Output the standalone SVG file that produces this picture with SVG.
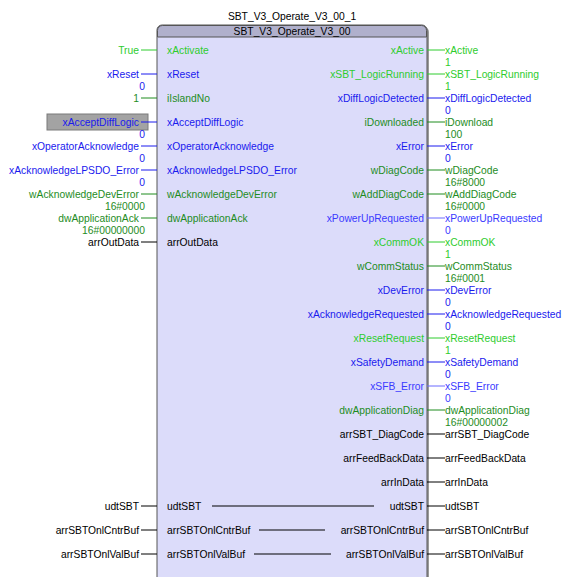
<svg xmlns="http://www.w3.org/2000/svg" width="566" height="577" viewBox="0 0 566 577">
<style>
text{font-family:"Liberation Sans",Arial,sans-serif;font-size:10.3px}
.l{text-anchor:end}
.c{text-anchor:middle}
.g{fill:#2ecc2e}.G{fill:#1e8c1e}.b{fill:#1a1aee}.B{fill:#3a3aff}.k{fill:#000}
.sg{stroke:#2ecc2e}.sG{stroke:#1e8c1e}.sb{stroke:#1a1aee}.sB{stroke:#6a6aff}.sk{stroke:#000}
line{stroke-width:1}
</style>
<rect width="566" height="577" fill="#fff"/>
<g id="block">
<text class="c k" x="292" y="20">SBT_V3_Operate_V3_00_1</text>
<rect x="159" y="27" width="270" height="570" rx="5" fill="#9a9a9a"/>
<rect x="157" y="25" width="270" height="570" rx="5" fill="#dcdcfa" stroke="#555" stroke-width="1"/>
<path d="M157.5,37 V30.5 A5,5 0 0 1 162.5,25.5 H421.5 A5,5 0 0 1 426.5,30.5 V37 Z" fill="#b0b0cc" stroke="#555"/>
<text class="c k" x="292" y="35">SBT_V3_Operate_V3_00</text>
</g>
<g id="highlight"><rect x="47" y="114" width="101" height="16" fill="#a3a3a3" stroke="#7a7a7a"/></g>
<g id="connectors">
<line class="sg" x1="141" y1="50" x2="157" y2="50"/>
<line class="sb" x1="141" y1="74" x2="157" y2="74"/>
<line class="sG" x1="141" y1="98" x2="157" y2="98"/>
<line class="sb" x1="141" y1="122" x2="157" y2="122"/>
<line class="sb" x1="141" y1="146" x2="157" y2="146"/>
<line class="sb" x1="141" y1="170" x2="157" y2="170"/>
<line class="sG" x1="141" y1="194" x2="157" y2="194"/>
<line class="sG" x1="141" y1="218" x2="157" y2="218"/>
<line class="sk" x1="141" y1="242" x2="157" y2="242"/>
<line class="sk" x1="141" y1="506" x2="157" y2="506"/>
<line class="sk" x1="141" y1="530" x2="157" y2="530"/>
<line class="sk" x1="141" y1="554" x2="157" y2="554"/>
<line class="sg" x1="427" y1="50" x2="445" y2="50"/>
<line class="sg" x1="427" y1="74" x2="445" y2="74"/>
<line class="sb" x1="427" y1="98" x2="445" y2="98"/>
<line class="sG" x1="427" y1="122" x2="445" y2="122"/>
<line class="sb" x1="427" y1="146" x2="445" y2="146"/>
<line class="sG" x1="427" y1="170" x2="445" y2="170"/>
<line class="sG" x1="427" y1="194" x2="445" y2="194"/>
<line class="sB" x1="427" y1="218" x2="445" y2="218"/>
<line class="sg" x1="427" y1="242" x2="445" y2="242"/>
<line class="sG" x1="427" y1="266" x2="445" y2="266"/>
<line class="sb" x1="427" y1="290" x2="445" y2="290"/>
<line class="sb" x1="427" y1="314" x2="445" y2="314"/>
<line class="sg" x1="427" y1="338" x2="445" y2="338"/>
<line class="sb" x1="427" y1="362" x2="445" y2="362"/>
<line class="sB" x1="427" y1="386" x2="445" y2="386"/>
<line class="sG" x1="427" y1="410" x2="445" y2="410"/>
<line class="sk" x1="427" y1="434" x2="445" y2="434"/>
<line class="sk" x1="427" y1="458" x2="445" y2="458"/>
<line class="sk" x1="427" y1="482" x2="445" y2="482"/>
<line class="sk" x1="427" y1="506" x2="445" y2="506"/>
<line class="sk" x1="427" y1="530" x2="445" y2="530"/>
<line class="sk" x1="427" y1="554" x2="445" y2="554"/>
<line class="sk" x1="212" y1="506" x2="374" y2="506"/>
<line class="sk" x1="259" y1="530" x2="325" y2="530"/>
<line class="sk" x1="254" y1="554" x2="331" y2="554"/>
</g>
<g id="inputs">
<text class="l g" x="139" y="54">True</text>
<text class="l b" x="139" y="78">xReset</text>
<text class="l b" x="145" y="90">0</text>
<text class="l G" x="139" y="102">1</text>
<text class="l b" x="139" y="126">xAcceptDiffLogic</text>
<text class="l b" x="145" y="138">0</text>
<text class="l b" x="139" y="150">xOperatorAcknowledge</text>
<text class="l b" x="145" y="162">0</text>
<text class="l b" x="139" y="174">xAcknowledgeLPSDO_Error</text>
<text class="l b" x="145" y="186">0</text>
<text class="l G" x="139" y="198">wAcknowledgeDevError</text>
<text class="l G" x="145" y="210">16#0000</text>
<text class="l G" x="139" y="222">dwApplicationAck</text>
<text class="l G" x="145" y="234">16#00000000</text>
<text class="l k" x="139" y="246">arrOutData</text>
<text class="l k" x="139" y="510">udtSBT</text>
<text class="l k" x="139" y="534">arrSBTOnlCntrBuf</text>
<text class="l k" x="139" y="558">arrSBTOnlValBuf</text>
</g>
<g id="pins-in">
<text class="g" x="167" y="54">xActivate</text>
<text class="b" x="167" y="78">xReset</text>
<text class="G" x="167" y="102">iIslandNo</text>
<text class="b" x="167" y="126">xAcceptDiffLogic</text>
<text class="b" x="167" y="150">xOperatorAcknowledge</text>
<text class="b" x="167" y="174">xAcknowledgeLPSDO_Error</text>
<text class="G" x="167" y="198">wAcknowledgeDevError</text>
<text class="G" x="167" y="222">dwApplicationAck</text>
<text class="k" x="167" y="246">arrOutData</text>
<text class="k" x="167" y="510">udtSBT</text>
<text class="k" x="167" y="534">arrSBTOnlCntrBuf</text>
<text class="k" x="167" y="558">arrSBTOnlValBuf</text>
</g>
<g id="pins-out">
<text class="l g" x="424" y="54">xActive</text>
<text class="l g" x="424" y="78">xSBT_LogicRunning</text>
<text class="l b" x="424" y="102">xDiffLogicDetected</text>
<text class="l G" x="424" y="126">iDownloaded</text>
<text class="l b" x="424" y="150">xError</text>
<text class="l G" x="424" y="174">wDiagCode</text>
<text class="l G" x="424" y="198">wAddDiagCode</text>
<text class="l B" x="424" y="222">xPowerUpRequested</text>
<text class="l g" x="424" y="246">xCommOK</text>
<text class="l G" x="424" y="270">wCommStatus</text>
<text class="l b" x="424" y="294">xDevError</text>
<text class="l b" x="424" y="318">xAcknowledgeRequested</text>
<text class="l g" x="424" y="342">xResetRequest</text>
<text class="l b" x="424" y="366">xSafetyDemand</text>
<text class="l B" x="424" y="390">xSFB_Error</text>
<text class="l G" x="424" y="414">dwApplicationDiag</text>
<text class="l k" x="424" y="438">arrSBT_DiagCode</text>
<text class="l k" x="424" y="462">arrFeedBackData</text>
<text class="l k" x="424" y="486">arrInData</text>
<text class="l k" x="424" y="510">udtSBT</text>
<text class="l k" x="424" y="534">arrSBTOnlCntrBuf</text>
<text class="l k" x="424" y="558">arrSBTOnlValBuf</text>
</g>
<g id="outputs">
<text class="g" x="445" y="54">xActive</text>
<text class="g" x="445" y="66">1</text>
<text class="g" x="445" y="78">xSBT_LogicRunning</text>
<text class="g" x="445" y="90">1</text>
<text class="b" x="445" y="102">xDiffLogicDetected</text>
<text class="b" x="445" y="114">0</text>
<text class="G" x="445" y="126">iDownload</text>
<text class="G" x="445" y="138">100</text>
<text class="b" x="445" y="150">xError</text>
<text class="b" x="445" y="162">0</text>
<text class="G" x="445" y="174">wDiagCode</text>
<text class="G" x="445" y="186">16#8000</text>
<text class="G" x="445" y="198">wAddDiagCode</text>
<text class="G" x="445" y="210">16#0000</text>
<text class="B" x="445" y="222">xPowerUpRequested</text>
<text class="B" x="445" y="234">0</text>
<text class="g" x="445" y="246">xCommOK</text>
<text class="g" x="445" y="258">1</text>
<text class="G" x="445" y="270">wCommStatus</text>
<text class="G" x="445" y="282">16#0001</text>
<text class="b" x="445" y="294">xDevError</text>
<text class="b" x="445" y="306">0</text>
<text class="b" x="445" y="318">xAcknowledgeRequested</text>
<text class="b" x="445" y="330">0</text>
<text class="g" x="445" y="342">xResetRequest</text>
<text class="g" x="445" y="354">1</text>
<text class="b" x="445" y="366">xSafetyDemand</text>
<text class="b" x="445" y="378">0</text>
<text class="B" x="445" y="390">xSFB_Error</text>
<text class="B" x="445" y="402">0</text>
<text class="G" x="445" y="414">dwApplicationDiag</text>
<text class="G" x="445" y="426">16#00000002</text>
<text class="k" x="445" y="438">arrSBT_DiagCode</text>
<text class="k" x="445" y="462">arrFeedBackData</text>
<text class="k" x="445" y="486">arrInData</text>
<text class="k" x="445" y="510">udtSBT</text>
<text class="k" x="445" y="534">arrSBTOnlCntrBuf</text>
<text class="k" x="445" y="558">arrSBTOnlValBuf</text>
</g>
</svg>
